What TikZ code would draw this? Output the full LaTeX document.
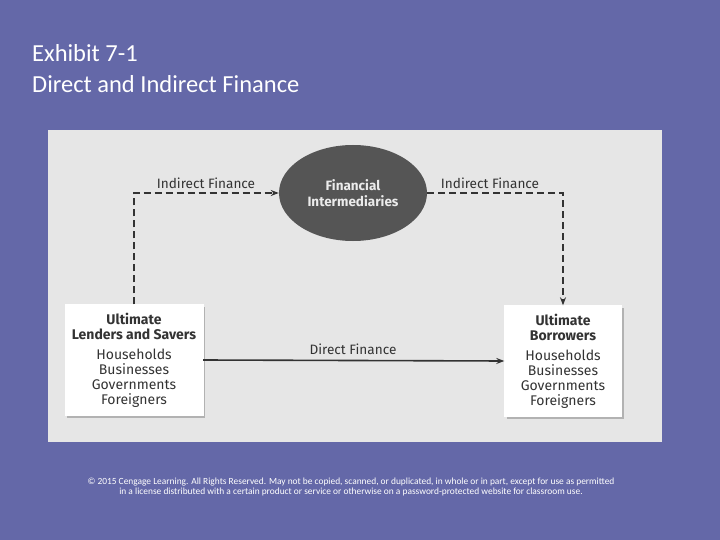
\documentclass[tikz,border=0pt]{standalone}
\usepackage{fontspec}
\setmainfont{Carlito}
\newfontfamily\diagfont{Fira Sans}
\usetikzlibrary{arrows.meta,shapes.geometric,shadows,positioning}
\definecolor{fslide}{HTML}{6468A8}
\definecolor{fpanel}{HTML}{E6E6E6}
\definecolor{fline}{HTML}{333333}
\definecolor{fdark}{HTML}{555555}
\tikzset{
  >={Stealth[length=8pt, width=6pt]},
  ftitle/.style={white, font=\fontsize{24.5}{29}\selectfont, anchor=base west, inner sep=0pt},
  fnote/.style={white, font=\fontsize{9.4}{10.5}\selectfont, align=center, inner sep=0pt},
  flbl/.style={fline, font=\diagfont\fontsize{13.6}{15}\selectfont, inner sep=0pt},
  fbox/.style={rectangle, fill=white, draw=white, align=center,
               minimum width=138pt, minimum height=111pt, inner sep=2pt,
               font=\diagfont\fontsize{14}{15}\selectfont, text=fline,
               drop shadow={shadow xshift=2pt, shadow yshift=-2pt, fill=black!35, opacity=0.8}},
  fmid/.style={ellipse, fill=fdark, minimum width=148pt, minimum height=96pt,
               align=center, text=black!8, inner sep=0pt,
               font=\diagfont\bfseries\fontsize{13.5}{16}\selectfont},
  fdash/.style={->, fline, dashed, dash pattern=on 7pt off 4pt, line width=1.6pt},
  fsolid/.style={->, fline, line width=1.6pt},
}
\begin{document}
\begin{tikzpicture}[x=1pt,y=-1pt]

  % ---- slide ----
  \useasboundingbox (0,0) rectangle (720,540);
  \fill[fslide] (0,0) rectangle (720,540);
  \node[ftitle] (ttl1) at (32,62) {Exhibit 7-1};
  \node[ftitle] (ttl2) at (32,93) {Direct and Indirect Finance};
  \fill[fpanel] (48,130) rectangle (662,442);

  % ---- nodes ----
  \node[fmid] (fi) at (353,193) {Financial\\Intermediaries};
  \node[fbox] (lend) at (134,360)
    {\textbf{\fontsize{14}{14}\selectfont Ultimate}\\
     \textbf{\fontsize{14}{14}\selectfont Lenders and Savers}\\[5pt]
     Households\\Businesses\\Governments\\Foreigners};
  \node[fbox, minimum width=117pt] (borr) at (563,361)
    {\textbf{\fontsize{14}{14}\selectfont Ultimate}\\
     \textbf{\fontsize{14}{14}\selectfont Borrowers}\\[5pt]
     Households\\Businesses\\Governments\\Foreigners};

  % ---- flows ----
  \draw[fdash] (lend.north) |- (fi.west);
  \draw[fdash] (fi.east) -| (borr.north);
  \draw[fsolid] (lend.east) -- (borr.west);
  \node[flbl] (ind1) at (206,183) {Indirect Finance};
  \node[flbl] (ind2) at (490,183) {Indirect Finance};
  \node[flbl] (dir) at (353,349) {Direct Finance};

  % ---- note ----
  \node[fnote] (cpy) at (351,487)
    {\textcopyright{} 2015 Cengage Learning. All Rights Reserved. May not be copied, scanned, or duplicated, in whole or in part, except for use as permitted\\
     in a license distributed with a certain product or service or otherwise on a password-protected website for classroom use.};

\end{tikzpicture}
\end{document}
